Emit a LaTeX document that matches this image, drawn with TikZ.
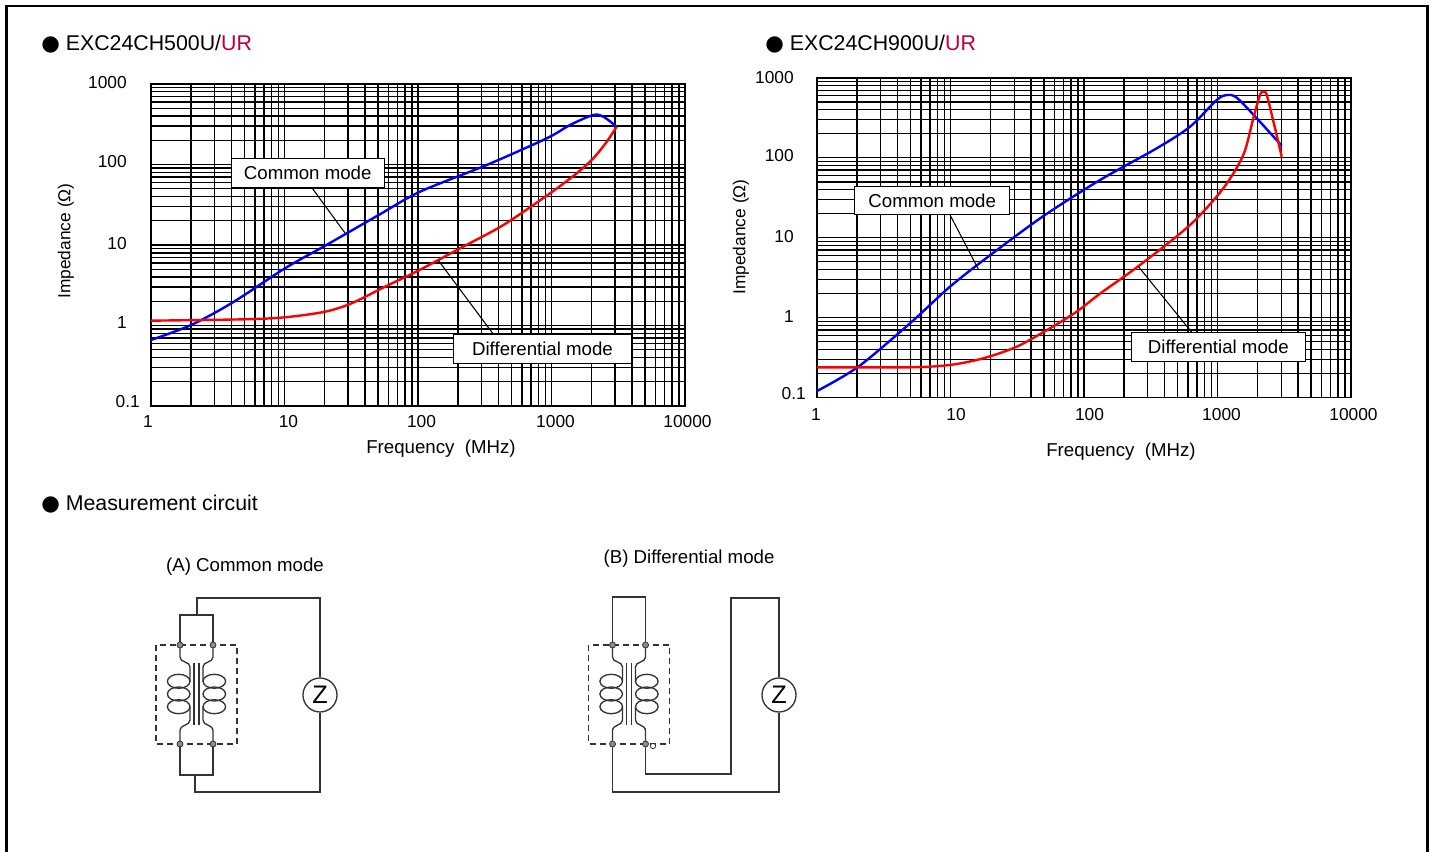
\documentclass[tikz,border=0pt]{standalone}
\usepackage{fontspec}
\setmainfont{Liberation Sans}
\newfontfamily\dejavu{DejaVu Sans}
\usetikzlibrary{calc}
\definecolor{urred}{RGB}{185,0,60}
\tikzset{
  gridline/.style={line width=1.05pt, black},
  cmcurve/.style={line width=1.8pt, blue, line join=round},
  dmcurve/.style={line width=1.8pt, red, line join=round},
  labbox/.style={draw, fill=white, line width=0.6pt, inner sep=0pt, minimum height=21.5pt, font=\fontsize{14}{16}\selectfont},
  leader/.style={line width=0.8pt},
  tick/.style={inner sep=0pt, font=\fontsize{13}{15}\selectfont},
  axtitle/.style={inner sep=0pt, font=\fontsize{14}{16}\selectfont},
  heading/.style={inner sep=0pt, anchor=base west, font=\fontsize{16}{19}\selectfont},
  wire/.style={line width=1pt, black!80},
  tdot/.style={circle, draw=black!80, fill=black!45, line width=0.6pt, inner sep=0pt, minimum size=4.5pt},
  zmeter/.style={circle, draw=black!80, line width=1pt, inner sep=0pt, minimum size=25.5pt, font=\fontsize{19}{20}\selectfont},
  pics/choke/.style={code={
    \draw[wire, dash pattern=on 4.5pt off 3pt] (-40.5,0) rectangle (40.5,99);
    \draw[wire] (-2.5,18) -- (-2.5,80) (2.5,18) -- (2.5,80);
    % both windings, right one mirrored
    \foreach \s in {1,-1}{
      \begin{scope}[xscale=\s]
        \draw[wire] (-16.5,0) -- (-16.5,12) .. controls (-16.5,18) and (-6.5,16) .. (-6.5,22) -- (-6.5,36.3);
        \foreach \yc in {36.3,49,61.7}{
          \draw[wire] (-17.8,\yc) ellipse [x radius=11.3, y radius=7];
        }
        \draw[wire] (-6.5,61.7) -- (-6.5,75) .. controls (-6.5,81) and (-16.5,79) .. (-16.5,86) -- (-16.5,99);
      \end{scope}
    }
    \node[tdot] (-tl) at (-16.5,0) {};
    \node[tdot] (-tr) at (16.5,0) {};
    \node[tdot] (-bl) at (-16.5,99) {};
    \node[tdot] (-br) at (16.5,99) {};
  }}
}
\begin{document}
\begin{tikzpicture}[x=0.75pt,y=-0.75pt]
  \useasboundingbox (0,0) rectangle (1439,852);
  % frame
  \draw[line width=2pt] (6.5,852) -- (6.5,6) -- (1427.5,6) -- (1427.5,852);

  % ---------- EXC24CH500U/UR ----------
  \node[heading] (hdA) at (41,50.6) {{\dejavu ●}\ EXC24CH500U/\textcolor{urred}{UR}};
  \begin{scope}[shift={(151,406)}, x=100.125pt, y=60.375pt]
    \foreach \d in {0,...,3}{
      \foreach \m in {1,...,9}{
        \draw[gridline] ({\d+log10(\m)},0) -- ({\d+log10(\m)},4);
        \draw[gridline] (0,{\d+log10(\m)}) -- (4,{\d+log10(\m)});
      }
    }
    \draw[gridline] (0,0) rectangle (4,4);
    \draw[cmcurve] plot[smooth] coordinates {(0,0.820) (0.300,1.006) (0.609,1.283) (1.004,1.711) (1.303,1.99) (1.703,2.37) (2.015,2.662) (2.515,2.994) (2.964,3.325) (3.139,3.491) (3.313,3.615) (3.388,3.594) (3.488,3.470)};
    \draw[dmcurve] plot[smooth] coordinates {(0,1.060) (0.704,1.077) (1.004,1.102) (1.303,1.171) (1.503,1.276) (1.753,1.482) (2.002,1.681) (2.315,1.959) (2.639,2.248) (2.989,2.642) (3.189,2.891) (3.313,3.077) (3.414,3.283) (3.488,3.470)};
    \coordinate (cmtipA) at (1.453,2.15);
    \coordinate (dmtipA) at (2.152,1.81);
  \end{scope}
  \node[labbox, minimum width=115pt] (cmA) at (307.7,172.8) {Common mode};
  \draw[leader] ($(cmA.south)+(4,0)$) -- (cmtipA);
  \node[labbox, minimum width=134pt] (dmA) at (542.5,349.2) {Differential mode};
  \draw[leader] ($(dmA.north)+(-49,0)$) -- (dmtipA);
  \foreach \t/\yy in {1000/83,100/162,10/244,1/323}{
    \node[tick, anchor=east] (ytA\t) at (127,\yy) {\t};
  }
  \node[tick, anchor=east] (ytA01) at (140,402) {0.1};
  \foreach \t/\xx in {1/148,10/288.5,100/421.5,1000/555.5,10000/687.5}{
    \node[tick] (xtA\t) at (\xx,422) {\t};
  }
  \node[axtitle, rotate=90, font=\fontsize{13}{15}\selectfont] (ytitA) at (66,241) {Impedance (Ω)};
  \node[axtitle] (xtitA) at (441,449) {Frequency\ \ (MHz)};

  % ---------- EXC24CH900U/UR ----------
  \node[heading] (hdB) at (765,50.6) {{\dejavu ●}\ EXC24CH900U/\textcolor{urred}{UR}};
  \begin{scope}[shift={(817,397.5)}, x=100.125pt, y=59.925pt]
    \foreach \d in {0,...,3}{
      \foreach \m in {1,...,9}{
        \draw[gridline] ({\d+log10(\m)},0) -- ({\d+log10(\m)},4);
        \draw[gridline] (0,{\d+log10(\m)}) -- (4,{\d+log10(\m)});
      }
    }
    \draw[gridline] (0,0) rectangle (4,4);
    \draw[cmcurve] plot[smooth] coordinates {(0,0.081) (0.309,0.385) (0.697,0.929) (0.996,1.387) (1.296,1.78) (1.695,2.27) (2.120,2.722) (2.545,3.119) (2.794,3.389) (2.994,3.723) (3.069,3.786) (3.144,3.752) (3.294,3.494) (3.481,3.151)};
    \draw[dmcurve] plot[smooth] coordinates {(0,0.378) (0.697,0.378) (0.996,0.407) (1.246,0.491) (1.496,0.636) (1.745,0.866) (1.945,1.074) (2.120,1.30) (2.419,1.658) (2.794,2.159) (3.043,2.618) (3.193,3.035) (3.268,3.494) (3.318,3.786) (3.343,3.827) (3.369,3.786) (3.431,3.369) (3.481,3.014)};
    \coordinate (cmtipB) at (1.208,1.608);
    \coordinate (dmtipB) at (2.407,1.64);
  \end{scope}
  \node[labbox, minimum width=116pt] (cmB) at (932.2,200.5) {Common mode};
  \draw[leader] ($(cmB.south)+(18,0)$) -- (cmtipB);
  \node[labbox, minimum width=130pt] (dmB) at (1218.3,347) {Differential mode};
  \draw[leader] ($(dmB.north)+(-26.6,0)$) -- (dmtipB);
  \foreach \t/\yy in {1000/78,100/156,10/237,1/317}{
    \node[tick, anchor=east] (ytB\t) at (794,\yy) {\t};
  }
  \node[tick, anchor=east] (ytB01) at (806,394) {0.1};
  \foreach \t/\xx in {1/816,10/956,100/1089.5,1000/1221.5,10000/1353.5}{
    \node[tick] (xtB\t) at (\xx,415) {\t};
  }
  \node[axtitle, rotate=90, font=\fontsize{13}{15}\selectfont] (ytitB) at (741,237) {Impedance (Ω)};
  \node[axtitle] (xtitB) at (1121,452) {Frequency\ \ (MHz)};

  % ---------- measurement circuit ----------
  \node[heading] (hdM) at (41,510.6) {{\dejavu ●}\ Measurement circuit};

  % (A) common mode
  \node[axtitle] (capA) at (245,567) {(A) Common mode};
  \pic (chA) at (196.5,645) {choke};
  \node[zmeter] (zA) at (320,695) {Z};
  \coordinate (jA1) at (197,615);
  \coordinate (jA2) at (197,598);
  \coordinate (jA3) at (195,792);
  \coordinate (jA4) at (195,775);
  \draw[wire] (chA-tl) -- ++(0,-30) -| (chA-tr);
  \draw[wire] (chA-bl) -- ++(0,31) -| (chA-br);
  \draw[wire] (jA1) -- (jA2) -| (zA.north);
  \draw[wire] (zA.south) |- (jA3) -- (jA4);

  % (B) differential mode
  \node[axtitle] (capB) at (689,559) {(B) Differential mode};
  \pic (chB) at (629,645) {choke};
  \node[zmeter] (zB) at (779,695) {Z};
  \coordinate (jB1) at (731,598);
  \draw[wire] (chB-tl) -- ++(0,-48) -| (chB-tr);
  \draw[wire] (chB-bl) -- ++(0,48) -| (zB.south);
  \draw[wire] (chB-br) -- ++(0,30) -| (jB1) -| (zB.north);
  \node[circle, draw=black!80, fill=white, line width=0.6pt, inner sep=0pt, minimum size=4pt] (oB) at (653,746) {};
\end{tikzpicture}
\end{document}
